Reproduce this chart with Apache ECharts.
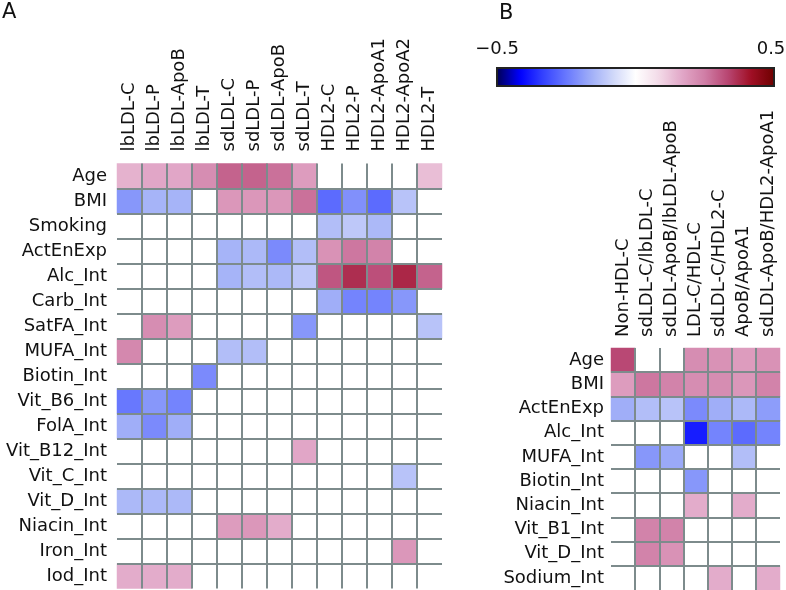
<!DOCTYPE html>
<html>
<head>
<meta charset="utf-8">
<script src="https://cdn.jsdelivr.net/npm/echarts@6/dist/echarts.min.js"></script>
<style>
html,body{margin:0;padding:0;background:#fff;}
#chart{width:786px;height:590px;}
</style>
</head>
<body>
<div id="chart"></div>
<script>
// ---------- Data ----------
const colsA = ['lbLDL-C','lbLDL-P','lbLDL-ApoB','lbLDL-T','sdLDL-C','sdLDL-P','sdLDL-ApoB','sdLDL-T','HDL2-C','HDL2-P','HDL2-ApoA1','HDL2-ApoA2','HDL2-T'];
const rowsA = ['Age','BMI','Smoking','ActEnExp','Alc_Int','Carb_Int','SatFA_Int','MUFA_Int','Biotin_Int','Vit_B6_Int','FolA_Int','Vit_B12_Int','Vit_C_Int','Vit_D_Int','Niacin_Int','Iron_Int','Iod_Int'];
const valsA = [
  [0.15, 0.17, 0.17, 0.22, 0.29, 0.29, 0.27, 0.19, null, null, null, null, 0.13],
  [-0.20, -0.15, -0.15, null, 0.20, 0.20, 0.20, 0.27, -0.27, -0.21, -0.27, -0.12, null],
  [null, null, null, null, null, null, null, null, -0.13, -0.11, -0.14, null, null],
  [null, null, null, null, -0.15, -0.14, -0.22, -0.13, 0.21, 0.26, 0.24, null, null],
  [null, null, null, null, -0.15, -0.13, -0.14, -0.11, 0.31, 0.37, 0.32, 0.38, 0.29],
  [null, null, null, null, null, null, null, null, -0.16, -0.23, -0.23, -0.20, null],
  [null, 0.22, 0.19, null, null, null, null, -0.20, null, null, null, null, -0.12],
  [0.23, null, null, null, -0.13, -0.13, null, null, null, null, null, null, null],
  [null, null, null, -0.22, null, null, null, null, null, null, null, null, null],
  [-0.25, -0.20, -0.23, null, null, null, null, null, null, null, null, null, null],
  [-0.16, -0.22, -0.16, null, null, null, null, null, null, null, null, null, null],
  [null, null, null, null, null, null, null, 0.17, null, null, null, null, null],
  [null, null, null, null, null, null, null, null, null, null, null, -0.12, null],
  [-0.14, -0.14, -0.14, null, null, null, null, null, null, null, null, null, null],
  [null, null, null, null, 0.19, 0.20, 0.16, null, null, null, null, null, null],
  [null, null, null, null, null, null, null, null, null, null, null, 0.20, null],
  [0.16, 0.16, 0.16, null, null, null, null, null, null, null, null, null, null]
];
const colsB = ['Non-HDL-C','sdLDL-C/lbLDL-C','sdLDL-ApoB/lbLDL-ApoB','LDL-C/HDL-C','sdLDL-C/HDL2-C','ApoB/ApoA1','sdLDL-ApoB/HDL2-ApoA1'];
const rowsB = ['Age','BMI','ActEnExp','Alc_Int','MUFA_Int','Biotin_Int','Niacin_Int','Vit_B1_Int','Vit_D_Int','Sodium_Int'];
const valsB = [
  [0.33, null, null, 0.22, 0.21, 0.19, 0.21],
  [0.19, 0.26, 0.24, 0.22, 0.22, 0.20, 0.24],
  [-0.16, -0.13, -0.12, -0.22, -0.16, -0.14, -0.19],
  [null, null, null, -0.38, -0.23, -0.27, -0.23],
  [null, -0.20, -0.17, null, null, -0.13, null],
  [null, null, null, -0.20, null, null, null],
  [null, null, null, 0.16, null, 0.16, null],
  [null, 0.24, 0.24, null, null, null, null],
  [null, 0.24, 0.21, null, null, null, null],
  [null, null, null, null, 0.16, null, 0.16]
];
const scaleMin = -0.5, scaleMax = 0.5;
const scaleLabels = ['\u22120.5', '0.5'];

// ---------- Build ----------
function toData(vals){
  const out = [];
  vals.forEach((row, r) => row.forEach((v, c) => { if (v !== null) out.push([c, r, v]); }));
  return out;
}
const FONT = 'DejaVu Sans';
const gridColor = '#7d8b8c';
const palette = ['#000055','#0000ff','#3442ff','#6878fe','#9cabf8','#ced6f9','#ffffff',
                 '#f3dbe8','#e2a8c8','#d07ea6','#b84672','#a00f25','#6e0000'];
const grids = [
  {left:117, top:163.5, width:325, height:425},
  {left:611, top:348, width:169, height:242}
];
const colLabelGap = [12, 11];

function xAx(gi, cols){
  return {
    type:'category', gridIndex:gi, data:cols, position:'top', z:5,
    axisLine:{show:false}, axisTick:{show:false}, axisLabel:{show:false},
    splitLine:{show:true, interval:0, showMinLine:false, showMaxLine:false, lineStyle:{color:gridColor, width:2}}
  };
}
function yAx(gi, rows, margin){
  return {
    type:'category', gridIndex:gi, data:rows, inverse:true, z:5,
    axisLine:{show:false}, axisTick:{show:false},
    axisLabel:{interval:0, margin:margin, fontFamily:FONT, fontSize:18, color:'#111'},
    splitLine:{show:true, interval:0, showMinLine:false, showMaxLine:false, lineStyle:{color:gridColor, width:2}}
  };
}

const chart = echarts.init(document.getElementById('chart'), null, {renderer:'canvas'});
chart.setOption({
  animation:false,
  backgroundColor:'#fff',
  grid:grids,
  xAxis:[xAx(0, colsA), xAx(1, colsB)],
  yAxis:[yAx(0, rowsA, 10), yAx(1, rowsB, 7)],
  visualMap:{
    type:'continuous', min:scaleMin, max:scaleMax, orient:'horizontal',
    left:497, top:68, itemWidth:18, itemHeight:277, padding:0,
    calculable:false, seriesIndex:[0,1], text:null, showLabel:false,
    inRange:{color:palette}
  },
  series:[
    {type:'heatmap', xAxisIndex:0, yAxisIndex:0, data:toData(valsA), itemStyle:{borderWidth:0}, emphasis:{disabled:true}},
    {type:'heatmap', xAxisIndex:1, yAxisIndex:1, data:toData(valsB), itemStyle:{borderWidth:0}, emphasis:{disabled:true}}
  ]
});

// Rotated column labels placed with the axis scale
const graphics = [
  {type:'text', left:2, top:2, style:{text:'A', font:'21px "DejaVu Sans"', fill:'#111'}},
  {type:'text', left:499, top:3, style:{text:'B', font:'21px "DejaVu Sans"', fill:'#111'}},
  {type:'text', x:497, y:49.5, style:{text:scaleLabels[0], font:'18px "DejaVu Sans"', fill:'#111', align:'center', verticalAlign:'middle'}},
  {type:'text', x:771, y:49.5, style:{text:scaleLabels[1], font:'18px "DejaVu Sans"', fill:'#111', align:'center', verticalAlign:'middle'}},
  {type:'rect', shape:{x:497, y:68, width:277, height:18}, style:{fill:null, stroke:'#222', lineWidth:2}, z:100}
];
[colsA, colsB].forEach((cols, gi) => {
  cols.forEach((name) => {
    const px = chart.convertToPixel({xAxisIndex:gi}, name);
    graphics.push({
      type:'text', x:px, y:grids[gi].top - colLabelGap[gi], rotation:Math.PI/2,
      style:{text:name, font:'18px "DejaVu Sans"', fill:'#111', align:'left', verticalAlign:'middle'}
    });
  });
});
chart.setOption({graphic:graphics});
</script>
</body>
</html>
